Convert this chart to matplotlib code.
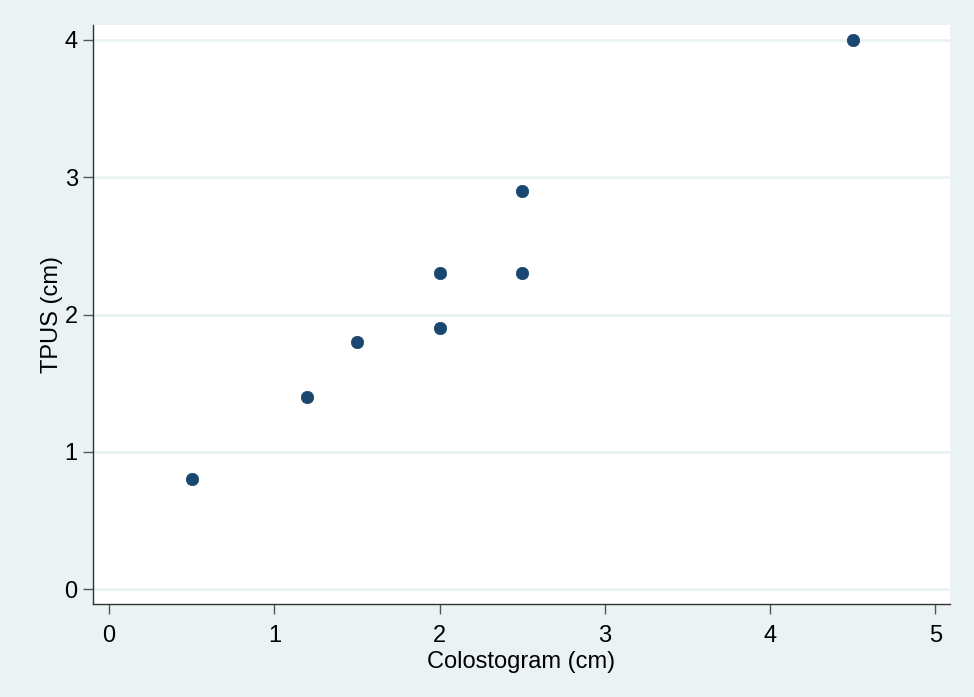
import matplotlib
matplotlib.use("Agg")
import matplotlib.pyplot as plt

colostogram = [0.5, 1.2, 1.5, 2.0, 2.0, 2.5, 2.5, 4.5]
tpus = [0.8, 1.4, 1.8, 1.9, 2.3, 2.3, 2.9, 4.0]
x_ticks = [0, 1, 2, 3, 4, 5]
y_ticks = [0, 1, 2, 3, 4]

plt.rcParams['font.family'] = ['Liberation Sans', 'DejaVu Sans']

bg = '#EAF2F3'
fig = plt.figure(figsize=(9.74, 6.97), dpi=100, facecolor=bg)
ax = fig.add_axes([93/974, 1-604/697, (950-93)/974, (604-25)/697])
ax.set_facecolor('white')

ax.scatter(colostogram, tpus, s=80, color='#1A476F', edgecolors='#1A476F', linewidths=0.5, zorder=3)

ax.set_xlim(-0.097, 5.088)
ax.set_ylim(-0.107, 4.109)
ax.set_xticks(x_ticks)
ax.set_yticks(y_ticks)
ax.yaxis.grid(True, color=bg, linewidth=2)
ax.xaxis.grid(False)
ax.set_axisbelow(True)

for s in ['top', 'right']:
    ax.spines[s].set_visible(False)
for s in ['left', 'bottom']:
    ax.spines[s].set_color('#333333')
    ax.spines[s].set_linewidth(1.0)

ax.tick_params(axis='both', direction='out', length=7, width=1, color='#555555',
               labelsize=17, labelcolor='black')
ax.tick_params(axis='x', pad=8)
ax.tick_params(axis='y', pad=4)

ax.set_xlabel('Colostogram (cm)', fontsize=17, labelpad=3)
ax.set_ylabel('TPUS (cm)', fontsize=17, labelpad=1)

fig.savefig('out.png', dpi=100, facecolor=bg)
